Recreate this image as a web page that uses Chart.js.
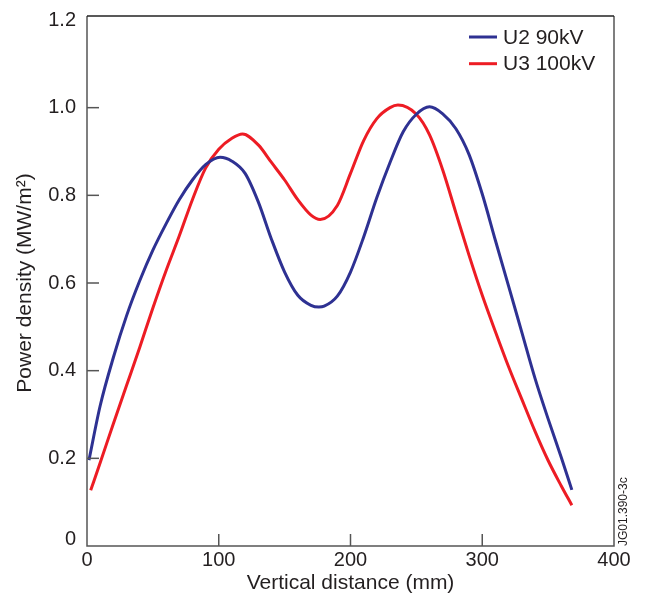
<!DOCTYPE html>
<html><head><meta charset="utf-8">
<script src="https://cdn.jsdelivr.net/npm/chart.js@4.4.0/dist/chart.umd.min.js"></script>
<style>html,body{margin:0;padding:0;background:#fff;overflow:hidden;}</style>
</head><body>
<canvas id="c" width="647" height="601"></canvas>
<script>
// ---- data ----
const seriesNames = ['U2 90kV', 'U3 100kV'];
const u2X = [1.5, 10, 20, 30, 40, 50, 60, 70, 80, 90, 101, 110, 120, 130, 140, 150, 160, 170, 176, 180, 190, 200, 210, 220, 230, 240, 250, 260, 270, 280, 290, 300, 310, 320, 330, 340, 350, 360, 368];
const u2Y = [0.196, 0.320, 0.430, 0.525, 0.605, 0.675, 0.735, 0.790, 0.835, 0.870, 0.887, 0.878, 0.850, 0.785, 0.700, 0.625, 0.572, 0.549, 0.545, 0.547, 0.570, 0.625, 0.705, 0.795, 0.875, 0.945, 0.985, 1.002, 0.986, 0.952, 0.893, 0.803, 0.697, 0.593, 0.488, 0.383, 0.290, 0.202, 0.128];
const u3X = [2.8, 10, 20, 30, 40, 50, 60, 70, 80, 90, 100, 110, 118, 130, 140, 150, 160, 170, 177, 190, 200, 210, 220, 230, 236, 250, 260, 270, 280, 290, 300, 310, 320, 330, 340, 350, 360, 368];
const u3Y = [0.127, 0.190, 0.279, 0.366, 0.453, 0.543, 0.628, 0.707, 0.790, 0.862, 0.905, 0.930, 0.940, 0.915, 0.875, 0.835, 0.790, 0.755, 0.745, 0.777, 0.850, 0.925, 0.975, 1.000, 1.006, 0.985, 0.938, 0.858, 0.760, 0.663, 0.572, 0.489, 0.409, 0.335, 0.262, 0.195, 0.137, 0.093];
const xTicks = [0, 100, 200, 300, 400];
const yTicks = [0, 0.2, 0.4, 0.6, 0.8, 1.0, 1.2];
const xTitle = 'Vertical distance (mm)';
const yTitle = 'Power density (MW/m²)';
const figureCode = 'JG01.390-3c';

// ---- styles ----
const FONT = '"Liberation Sans", Arial, Helvetica, sans-serif';
const TXT = '#231f20';
const AXIS = '#555';
const colors = ['#2e3192', '#ed1c24'];

const toPts = (xs, ys) => xs.map((x, i) => ({x: x, y: ys[i]}));

const decorations = {
  id: 'decorations',
  afterDraw(chart) {
    const ctx = chart.ctx;
    const a = chart.chartArea;
    const xs = chart.scales.x, ys = chart.scales.y;
    const top = a.top - 4;
    ctx.save();
    // frame
    ctx.lineWidth = 1.5;
    ctx.strokeStyle = AXIS;
    ctx.beginPath();
    ctx.moveTo(a.left, top); ctx.lineTo(a.left, a.bottom); ctx.lineTo(a.right, a.bottom); ctx.lineTo(a.right, top);
    ctx.stroke();
    ctx.strokeStyle = '#222';
    ctx.beginPath(); ctx.moveTo(a.left, top); ctx.lineTo(a.right, top); ctx.stroke();
    // inner ticks
    ctx.strokeStyle = AXIS;
    ctx.lineWidth = 1.5;
    yTicks.forEach(v => {
      if (v <= 0 || v >= 1.2) return;
      const p = ys.getPixelForValue(v);
      ctx.beginPath(); ctx.moveTo(a.left, p); ctx.lineTo(a.left + 12, p); ctx.stroke();
    });
    xTicks.forEach(v => {
      if (v <= 0 || v >= 400) return;
      const p = xs.getPixelForValue(v);
      ctx.beginPath(); ctx.moveTo(p, a.bottom); ctx.lineTo(p, a.bottom - 12); ctx.stroke();
    });
    // legend
    ctx.font = '21px ' + FONT;
    ctx.textBaseline = 'middle';
    ctx.textAlign = 'left';
    chart.data.datasets.forEach((ds, i) => {
      const y = top + 21 + i * 26.7;
      ctx.strokeStyle = ds.borderColor;
      ctx.lineWidth = 3;
      ctx.beginPath(); ctx.moveTo(a.right - 145, y); ctx.lineTo(a.right - 117, y); ctx.stroke();
      ctx.fillStyle = TXT;
      ctx.fillText(ds.label, a.right - 111, y + 1);
    });
    // figure code
    ctx.save();
    ctx.translate(a.right + 10, a.bottom);
    ctx.rotate(-Math.PI / 2);
    ctx.font = '12px ' + FONT;
    ctx.textBaseline = 'middle';
    ctx.fillStyle = TXT;
    ctx.fillText(figureCode, 0, 0);
    ctx.restore();
    ctx.restore();
  }
};

new Chart(document.getElementById('c'), {
  type: 'line',
  data: {
    datasets: [
      {label: seriesNames[0], data: toPts(u2X, u2Y), borderColor: colors[0], backgroundColor: colors[0], borderWidth: 3, pointRadius: 0, cubicInterpolationMode: 'monotone', fill: false},
      {label: seriesNames[1], data: toPts(u3X, u3Y), borderColor: colors[1], backgroundColor: colors[1], borderWidth: 3, pointRadius: 0, cubicInterpolationMode: 'monotone', fill: false}
    ]
  },
  options: {
    responsive: false,
    animation: false,
    devicePixelRatio: 1,
    layout: {padding: {left: 0, top: 20, right: 33, bottom: 0}},
    plugins: {legend: {display: false}, tooltip: {enabled: false}},
    scales: {
      x: {
        type: 'linear', min: 0, max: 400,
        afterBuildTicks: s => { s.ticks = xTicks.map(v => ({value: v})); },
        afterFit: s => { s.height = 55; },
        grid: {display: false},
        border: {display: false},
        ticks: {color: TXT, font: {family: FONT, size: 20}, padding: -6, maxRotation: 0, callback: v => String(v)},
        title: {display: true, text: xTitle, color: TXT, font: {family: FONT, size: 21}, padding: {top: 0, bottom: 5}}
      },
      y: {
        type: 'linear', min: 0, max: 1.2,
        afterBuildTicks: s => { s.ticks = yTicks.map(v => ({value: v})); },
        afterFit: s => { s.width = 87; },
        grid: {display: false},
        border: {display: false},
        ticks: {color: TXT, font: {family: FONT, size: 20, lineHeight: 0.65}, padding: 3, callback: v => v === 0 ? ['0', ''] : v.toFixed(1)},
        title: {display: true, text: yTitle, color: TXT, font: {family: FONT, size: 21}, padding: {top: 13, bottom: 0}}
      }
    }
  },
  plugins: [decorations]
});
</script>
</body></html>
